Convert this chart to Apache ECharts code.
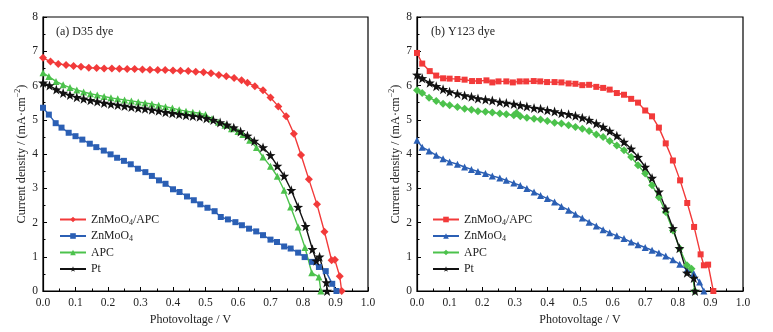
<!DOCTYPE html>
<html>
<head>
<meta charset="utf-8">
<script src="https://cdn.jsdelivr.net/npm/echarts@6/dist/echarts.min.js"></script>
<style>
  html, body { margin: 0; padding: 0; background: #fff; }
  #chart { width: 773px; height: 332px; }
</style>
</head>
<body>
<div id="chart"></div>
<script>
// (a) D35 dye
let aHybrid = [[0,6.81],[0.023,6.70],[0.047,6.63],[0.071,6.60],[0.094,6.57],[0.117,6.55],[0.141,6.52],[0.165,6.51],[0.188,6.50],[0.212,6.50],[0.235,6.49],[0.259,6.48],[0.282,6.48],[0.306,6.47],[0.329,6.46],[0.353,6.45],[0.376,6.45],[0.400,6.44],[0.423,6.43],[0.447,6.42],[0.470,6.40],[0.494,6.39],[0.517,6.36],[0.541,6.31],[0.564,6.27],[0.588,6.22],[0.611,6.15],[0.629,6.08],[0.652,5.98],[0.677,5.86],[0.700,5.65],[0.724,5.39],[0.748,5.10],[0.772,4.59],[0.794,3.97],[0.818,3.26],[0.843,2.53],[0.866,1.73],[0.888,0.90],[0.898,0.91],[0.913,0.43],[0.919,0]];
let aZn = [[0,5.35],[0.018,5.15],[0.039,4.90],[0.057,4.77],[0.079,4.62],[0.100,4.52],[0.121,4.42],[0.144,4.30],[0.164,4.20],[0.187,4.10],[0.208,3.99],[0.228,3.89],[0.249,3.80],[0.270,3.70],[0.292,3.57],[0.315,3.47],[0.335,3.36],[0.357,3.23],[0.377,3.13],[0.400,2.97],[0.420,2.89],[0.443,2.76],[0.464,2.65],[0.484,2.53],[0.506,2.43],[0.528,2.33],[0.547,2.16],[0.569,2.09],[0.592,2.01],[0.612,1.92],[0.634,1.82],[0.656,1.74],[0.677,1.63],[0.700,1.50],[0.720,1.43],[0.742,1.30],[0.762,1.24],[0.785,1.12],[0.805,0.99],[0.828,0.85],[0.849,0.70],[0.870,0.58],[0.890,0.21],[0.903,0]];
let aApc = [[0,6.37],[0.018,6.26],[0.040,6.12],[0.062,6.02],[0.083,5.94],[0.104,5.87],[0.125,5.81],[0.146,5.76],[0.167,5.72],[0.188,5.68],[0.209,5.64],[0.230,5.61],[0.251,5.58],[0.272,5.55],[0.293,5.52],[0.314,5.49],[0.335,5.46],[0.356,5.42],[0.377,5.38],[0.398,5.34],[0.419,5.29],[0.440,5.25],[0.461,5.22],[0.482,5.19],[0.500,5.15],[0.520,5.03],[0.540,4.93],[0.560,4.84],[0.580,4.74],[0.600,4.66],[0.615,4.57],[0.636,4.40],[0.657,4.19],[0.677,3.91],[0.700,3.64],[0.721,3.35],[0.742,2.94],[0.762,2.45],[0.785,1.87],[0.806,1.27],[0.827,0.53],[0.849,0.41],[0.855,0]];
let aPt = [[0,6.08],[0.020,6.00],[0.041,5.88],[0.062,5.78],[0.083,5.72],[0.104,5.66],[0.125,5.61],[0.146,5.57],[0.167,5.53],[0.188,5.49],[0.209,5.46],[0.230,5.43],[0.251,5.40],[0.272,5.37],[0.293,5.34],[0.314,5.32],[0.335,5.29],[0.356,5.26],[0.377,5.22],[0.398,5.19],[0.419,5.16],[0.440,5.13],[0.461,5.11],[0.482,5.09],[0.503,5.04],[0.524,4.99],[0.545,4.92],[0.566,4.85],[0.587,4.77],[0.608,4.66],[0.629,4.53],[0.650,4.38],[0.677,4.19],[0.700,3.96],[0.721,3.65],[0.742,3.36],[0.764,2.94],[0.785,2.45],[0.808,1.89],[0.829,1.22],[0.841,0.88],[0.851,1.00],[0.872,0.25],[0.874,0]];

// (b) Y123 dye
let bHybrid = [[0,6.95],[0.016,6.64],[0.039,6.42],[0.059,6.29],[0.080,6.21],[0.100,6.20],[0.124,6.19],[0.146,6.17],[0.169,6.13],[0.190,6.13],[0.213,6.15],[0.231,6.09],[0.250,6.12],[0.274,6.12],[0.294,6.09],[0.315,6.12],[0.335,6.12],[0.358,6.13],[0.378,6.12],[0.399,6.10],[0.422,6.10],[0.443,6.09],[0.465,6.06],[0.486,6.05],[0.507,6.01],[0.528,6.02],[0.550,5.96],[0.571,5.93],[0.591,5.88],[0.613,5.78],[0.635,5.73],[0.657,5.61],[0.678,5.50],[0.700,5.27],[0.721,5.10],[0.742,4.77],[0.763,4.31],[0.785,3.81],[0.807,3.23],[0.829,2.57],[0.850,1.87],[0.870,1.07],[0.880,0.75],[0.893,0.77],[0.909,0]];
let bZn = [[0,4.40],[0.016,4.20],[0.037,4.09],[0.059,3.96],[0.080,3.86],[0.100,3.77],[0.124,3.70],[0.146,3.62],[0.167,3.55],[0.187,3.49],[0.210,3.43],[0.231,3.36],[0.254,3.30],[0.274,3.23],[0.297,3.15],[0.317,3.08],[0.337,2.99],[0.359,2.89],[0.379,2.79],[0.400,2.70],[0.422,2.60],[0.443,2.47],[0.465,2.36],[0.486,2.24],[0.507,2.13],[0.528,2.01],[0.550,1.90],[0.571,1.79],[0.591,1.70],[0.613,1.61],[0.635,1.53],[0.657,1.43],[0.678,1.35],[0.700,1.27],[0.721,1.19],[0.742,1.11],[0.763,1.02],[0.785,0.91],[0.806,0.78],[0.828,0.62],[0.849,0.51],[0.867,0.26],[0.880,0]];
let bApc = [[0,5.86],[0.016,5.78],[0.037,5.64],[0.059,5.55],[0.080,5.47],[0.100,5.42],[0.124,5.37],[0.146,5.32],[0.167,5.29],[0.187,5.25],[0.210,5.23],[0.231,5.21],[0.254,5.18],[0.274,5.16],[0.297,5.13],[0.305,5.20],[0.317,5.10],[0.337,5.06],[0.359,5.03],[0.379,5.01],[0.400,4.96],[0.422,4.91],[0.443,4.89],[0.465,4.84],[0.486,4.79],[0.507,4.74],[0.528,4.67],[0.550,4.57],[0.571,4.50],[0.591,4.38],[0.613,4.25],[0.635,4.11],[0.657,3.91],[0.678,3.67],[0.700,3.43],[0.721,3.09],[0.742,2.74],[0.763,2.31],[0.785,1.77],[0.806,1.24],[0.828,0.75],[0.842,0.65],[0.852,0]];
let bPt = [[0,6.31],[0.016,6.21],[0.039,6.08],[0.059,5.98],[0.080,5.89],[0.100,5.82],[0.124,5.76],[0.146,5.71],[0.167,5.67],[0.187,5.62],[0.210,5.59],[0.231,5.56],[0.254,5.52],[0.274,5.49],[0.297,5.46],[0.317,5.42],[0.337,5.39],[0.359,5.34],[0.379,5.32],[0.400,5.28],[0.422,5.24],[0.443,5.19],[0.465,5.16],[0.486,5.12],[0.507,5.06],[0.528,4.99],[0.550,4.89],[0.571,4.79],[0.591,4.67],[0.613,4.53],[0.635,4.35],[0.657,4.15],[0.678,3.91],[0.700,3.62],[0.721,3.30],[0.742,2.90],[0.763,2.40],[0.785,1.83],[0.805,1.25],[0.828,0.53],[0.849,0.38],[0.853,0]];

let xTicks = ['0.0','0.1','0.2','0.3','0.4','0.5','0.6','0.7','0.8','0.9','1.0'];
let panelTitles = ['(a) D35 dye', '(b) Y123 dye'];
let legendText = {
  a1: 'ZnMoO{sub|4}/APC', a2: 'ZnMoO{sub|4}', a3: 'APC', a4: 'Pt',
  b1: 'ZnMoO{sub|4}/APC', b2: 'ZnMoO{sub|4}', b3: 'APC', b4: 'Pt'
};

const FONT = '"Liberation Serif", "Times New Roman", serif';
const RED = '#f23a3a', BLUE = '#2b5fb4', GREEN = '#4cc24c', BLACK = '#111';
const STAR = 'path://M0,-10L2.35,-3.24L9.51,-3.09L3.8,1.24L5.88,8.09L0,4L-5.88,8.09L-3.8,1.24L-9.51,-3.09L-2.35,-3.24Z';

function xAx(i) {
  return {
    gridIndex: i, type: 'value', min: 0, max: 1, interval: 0.1,
    name: 'Photovoltage / V', nameLocation: 'middle', nameGap: 21,
    // the left panel's caption sits a bit left of centre in the original
    nameTextStyle: { fontFamily: FONT, fontSize: 12, color: '#222', padding: i === 0 ? [0, 30, 0, 0] : 0 },
    axisLine: { lineStyle: { color: '#000', width: 1.2 } },
    axisTick: { inside: true, length: 4, lineStyle: { color: '#000' } },
    minorTick: { show: true, splitNumber: 2, length: 2.5, lineStyle: { color: '#000' } },
    axisLabel: { fontFamily: FONT, fontSize: 11.5, color: '#222', margin: 6,
      formatter: v => xTicks[Math.round(v * 10)] },
    splitLine: { show: false }
  };
}
function yAx(i) {
  return {
    gridIndex: i, type: 'value', min: 0, max: 8, interval: 1,
    name: 'Current density / (mA·cm{sup|−2})', nameLocation: 'middle', nameGap: i === 0 ? 11 : 14,
    nameTextStyle: { fontFamily: FONT, fontSize: 12.2, color: '#222', lineHeight: 14,
      rich: { sup: { fontFamily: FONT, fontSize: 8, color: '#222', lineHeight: 8, verticalAlign: 'top' } } },
    axisLine: { lineStyle: { color: '#000', width: 1.2 } },
    axisTick: { inside: true, length: 4, lineStyle: { color: '#000' } },
    minorTick: { show: true, splitNumber: 2, length: 2.5, lineStyle: { color: '#000' } },
    axisLabel: { fontFamily: FONT, fontSize: 11.5, color: '#222', margin: 5 },
    splitLine: { show: false }
  };
}
function ser(name, data, i, color, symbol, size) {
  return {
    name: name, type: 'line', xAxisIndex: i, yAxisIndex: i, data: data,
    symbol: symbol, symbolSize: size, showSymbol: true,
    lineStyle: { color: color, width: 1.4 },
    itemStyle: { color: color },
    animation: false
  };
}
function legend(i, left) {
  return {
    orient: 'vertical', left: left, top: 212.5, padding: 0,
    itemWidth: 26, itemHeight: 7, itemGap: 2.5,
    data: i === 0 ? ['a1', 'a2', 'a3', 'a4'] : ['b1', 'b2', 'b3', 'b4'],
    formatter: n => legendText[n],
    textStyle: { fontFamily: FONT, fontSize: 11.8, color: '#222', lineHeight: 14,
      rich: { sub: { fontFamily: FONT, fontSize: 8, color: '#222', lineHeight: 8, verticalAlign: 'bottom' } } }
  };
}

let chart = echarts.init(document.getElementById('chart'));
chart.setOption({
  backgroundColor: '#fff',
  animation: false,
  grid: [
    { left: 43, top: 17, width: 325, height: 274, show: true, borderColor: '#000', borderWidth: 1.2 },
    { left: 417, top: 17, width: 326, height: 274, show: true, borderColor: '#000', borderWidth: 1.2 }
  ],
  xAxis: [xAx(0), xAx(1)],
  yAxis: [yAx(0), yAx(1)],
  legend: [legend(0, 59), legend(1, 432)],
  graphic: [
    { type: 'text', left: 56, top: 26, style: { text: panelTitles[0], font: '12px ' + FONT, fill: '#222' } },
    { type: 'text', left: 431, top: 26, style: { text: panelTitles[1], font: '12px ' + FONT, fill: '#222' } }
  ],
  series: [
    ser('a1', aHybrid, 0, RED, 'diamond', 8),
    ser('a2', aZn, 0, BLUE, 'rect', 6),
    ser('a3', aApc, 0, GREEN, 'triangle', 7),
    ser('a4', aPt, 0, BLACK, STAR, 10),
    ser('b1', bHybrid, 1, RED, 'rect', 6),
    ser('b2', bZn, 1, BLUE, 'triangle', 7),
    ser('b3', bApc, 1, GREEN, 'diamond', 8),
    ser('b4', bPt, 1, BLACK, STAR, 10)
  ]
});
</script>
</body>
</html>
